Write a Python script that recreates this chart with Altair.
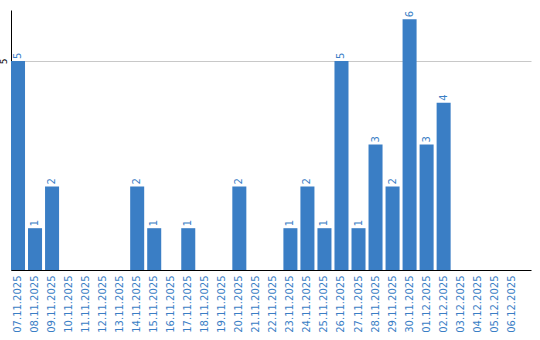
import altair as alt
import pandas as pd

dates = ["07.11.2025", "08.11.2025", "09.11.2025", "10.11.2025", "11.11.2025",
         "12.11.2025", "13.11.2025", "14.11.2025", "15.11.2025", "16.11.2025",
         "17.11.2025", "18.11.2025", "19.11.2025", "20.11.2025", "21.11.2025",
         "22.11.2025", "23.11.2025", "24.11.2025", "25.11.2025", "26.11.2025",
         "27.11.2025", "28.11.2025", "29.11.2025", "30.11.2025", "01.12.2025",
         "02.12.2025", "03.12.2025", "04.12.2025", "05.12.2025", "06.12.2025"]
values = [5, 1, 2, 0, 0, 0, 0, 2, 1, 0, 1, 0, 0, 2, 0, 0, 1, 2, 1, 5, 1, 3, 2, 6, 3, 4, 0, 0, 0, 0]

df = pd.DataFrame({"date": dates, "value": values})
blue = "#3a7ec5"

x = alt.X("date:N", sort=None, title=None,
          scale=alt.Scale(paddingInner=0.1765, paddingOuter=0.36, align=0),
          axis=alt.Axis(labelAngle=-90, labelAlign="right", labelBaseline="middle",
                        tickSize=0, labelPadding=5, labelColor=blue, labelFontSize=10,
                        labelFont="DejaVu Sans", domainColor="black", grid=False))
y = alt.Y("value:Q", title=None, scale=alt.Scale(domain=[0, 6.22], nice=False),
          axis=alt.Axis(values=[5], tickSize=0, labelAngle=-90, labelAlign="center",
                        labelBaseline="bottom", labelFontSize=9, labelPadding=3,
                        labelFont="DejaVu Sans",
                        labelColor="black", domainColor="black", gridColor="#c8c8c8"))

bars = alt.Chart(df).mark_bar(color=blue).encode(x=x, y=y)
labels = alt.Chart(df[df["value"] > 0]).mark_text(
    angle=270, align="left", baseline="middle", dx=2, color=blue,
    fontSize=10, font="DejaVu Sans").encode(x=x, y=y, text="value:Q")

chart = (bars + labels).properties(
    width=520, height=260,
    background="white",
    autosize=alt.AutoSizeParams(type="none"),
    padding={"left": 11, "top": 10, "right": 9, "bottom": 70},
).configure_view(stroke=None)

chart.save("out.html", embed_options={"renderer": "svg", "actions": False})
